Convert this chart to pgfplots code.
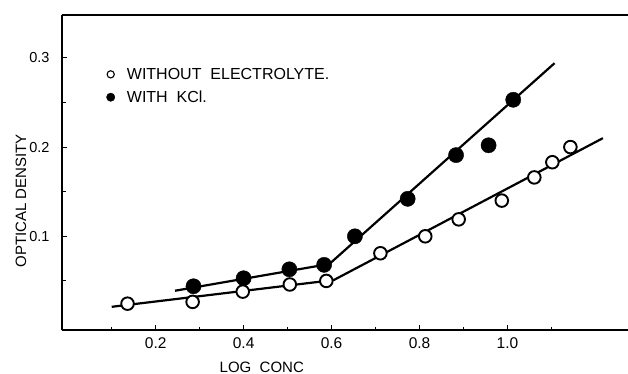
\documentclass[border=0pt]{standalone}
\usepackage{fontspec}
\setmainfont{Liberation Sans}
\usepackage{pgfplots}
\pgfplotsset{compat=1.18}
\begin{document}
\begin{tikzpicture}
\begin{axis}[
  scale only axis, width=566bp, height=315bp,
  xmin=-0.013, xmax=1.274, ymin=-0.005, ymax=0.348,
  axis x line=box, axis y line=left,
  axis line style={-, line width=2.4bp, black},
  x axis line style={-}, y axis line style={-},
  xtick={0.2,0.4,0.6,0.8,1.0}, xticklabels={0.2,0.4,0.6,0.8,1.0},
  ytick={0.1,0.2,0.3}, yticklabels={0.1,0.2,0.3},
  minor xtick={0.1,0.3,0.5,0.7,0.9,1.1}, minor ytick={0.05,0.15,0.25},
  xtick pos=bottom, ytick pos=left, tick align=inside,
  major tick length=5bp, minor tick length=3.5bp,
  tick style={line width=1bp, black},
  /pgf/number format/assume math mode=true,
  xticklabel style={font=\fontsize{15.5bp}{18bp}\selectfont, yshift=-4bp},
  yticklabel style={font=\fontsize{14.5bp}{18bp}\selectfont, xshift=-9bp},
  every axis x label/.style={at={(axis description cs:0.353,-0.117)}, anchor=center},
  every axis y label/.style={at={(axis description cs:-0.0724,0.41)}, rotate=90, anchor=center},
  label style={font=\fontsize{15bp}{18bp}\selectfont},
  xlabel={LOG\ \ CONC},
  ylabel={OPTICAL DENSITY},
  legend style={at={(axis description cs:0.073,0.845)}, anchor=north west, draw=none, fill=none,
    font=\fontsize{16bp}{19bp}\selectfont, row sep=6bp,
    /tikz/every odd column/.append style={column sep=10bp}},
  legend cell align=left,
]
% fitted lines
\addplot[forget plot, black, line width=2.2bp] coordinates {(0.100,0.021) (0.605,0.051) (1.217,0.210)};
\addplot[forget plot, black, line width=2.2bp] coordinates {(0.244,0.039) (0.595,0.069) (1.107,0.294)};
% without electrolyte (open circles)
\addplot[forget plot, only marks, mark=*, mark size=6.3bp, mark options={fill=white, draw=black, line width=1.9bp}] coordinates {
(0.136,0.0245) (0.284,0.0265) (0.398,0.038) (0.505,0.046) (0.588,0.050) (0.711,0.081)
(0.813,0.100) (0.889,0.119) (0.987,0.140) (1.061,0.166) (1.102,0.183) (1.143,0.200)};
% with KCl (filled circles)
\addplot[forget plot, only marks, mark=*, mark size=7.6bp, mark options={fill=black, draw=black}] coordinates {
(0.286,0.044) (0.400,0.053) (0.504,0.063) (0.583,0.068) (0.653,0.100) (0.773,0.142)
(0.883,0.191) (0.957,0.202) (1.013,0.253)};
\addlegendimage{only marks, mark=o, mark size=3.6bp, mark options={line width=1.1bp, black}}
\addlegendentry{WITHOUT\ \ ELECTROLYTE.}
\addlegendimage{only marks, mark=*, mark size=4.2bp, mark options={black}}
\addlegendentry{WITH\ \ KCl.}
\coordinate (ll) at (rel axis cs:0,0);
\coordinate (ur) at (rel axis cs:1,1);
\end{axis}
\pgfresetboundingbox
\path[use as bounding box] ([shift={(-62bp,-44bp)}]ll) rectangle ([shift={(0bp,15bp)}]ur);
\end{tikzpicture}
\end{document}
